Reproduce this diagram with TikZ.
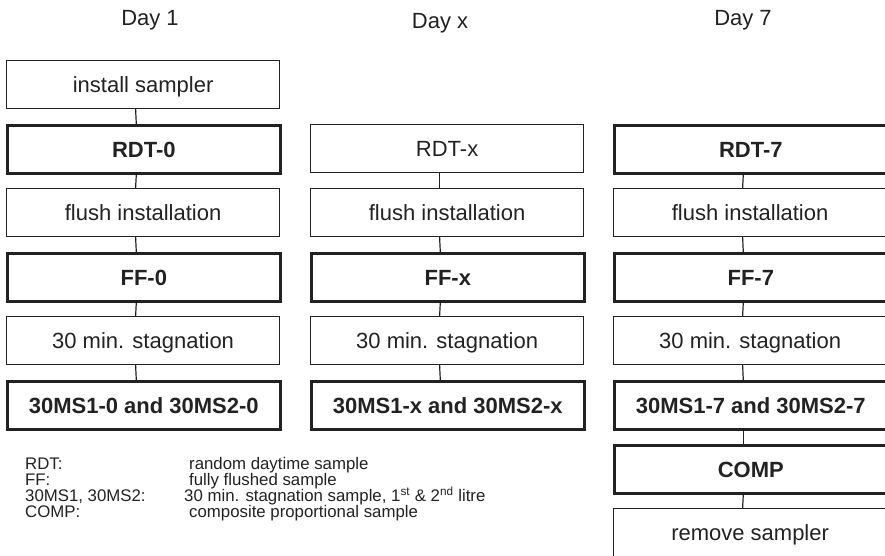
\documentclass[tikz,border=0pt]{standalone}
\usepackage{fontspec}
\setmainfont{Liberation Sans}
\definecolor{ink}{HTML}{222222}
\begin{document}
\begin{tikzpicture}[x=1pt,y=-1pt,
  stepbox/.style={draw=ink,line width=1.2pt,minimum width=273pt,minimum height=48pt,
    inner sep=0pt,anchor=north west,text=ink,
    font=\fontsize{22}{22}\selectfont,text height=15.75pt,text depth=0pt},
  samplebox/.style={stepbox,line width=2.6pt,font=\fontsize{22}{22}\selectfont\bfseries},
  daylabel/.style={text=ink,font=\fontsize{22}{22}\selectfont,inner sep=0pt},
  legend/.style={text=ink,font=\fontsize{16.8}{16.8}\selectfont,inner sep=0pt,anchor=base west},
  link/.style={draw=ink,line width=1.2pt}]
\useasboundingbox (0,0) rectangle (885,555);
\begin{scope}
\clip (0,0) rectangle (885,555);
% day labels
\node[daylabel] (d1) at (150,20) {Day 1};
\node[daylabel] (dx) at (440,23) {Day x};
\node[daylabel] (d7) at (743,20) {Day 7};
% column 1
\node[stepbox]   (a0) at (6,60)  {install sampler};
\node[samplebox] (a1) at (6,124) {RDT-0};
\node[stepbox]   (a2) at (6,188) {flush installation};
\node[samplebox] (a3) at (6,252) {FF-0};
\node[stepbox]   (a4) at (6,316) {30 min. stagnation};
\node[samplebox] (a5) at (6,380) {30MS1-0 and 30MS2-0};
% column 2
\node[stepbox]   (b1) at (310,124) {RDT-x};
\node[stepbox]   (b2) at (310,188) {flush installation};
\node[samplebox] (b3) at (310,252) {FF-x};
\node[stepbox]   (b4) at (310,316) {30 min. stagnation};
\node[samplebox] (b5) at (310,380) {30MS1-x and 30MS2-x};
% column 3
\node[samplebox] (c1) at (613,124) {RDT-7};
\node[stepbox]   (c2) at (613,188) {flush installation};
\node[samplebox] (c3) at (613,252) {FF-7};
\node[stepbox]   (c4) at (613,316) {30 min. stagnation};
\node[samplebox] (c5) at (613,380) {30MS1-7 and 30MS2-7};
\node[samplebox] (c6) at (613,444) {COMP};
\node[stepbox]   (c7) at (613,508) {remove sampler};
% connectors
\foreach \u/\v in {a0/a1,a1/a2,a2/a3,a3/a4,a4/a5,b1/b2,b2/b3,b3/b4,b4/b5,c1/c2,c2/c3,c3/c4,c4/c5,c5/c6,c6/c7}
  \draw[link] ([xshift=-7.5pt]\u.south) -- ([xshift=-7.5pt]\v.north);
\end{scope}
% legend
\node[legend] (l1a) at (25,469.5) {RDT:};
\node[legend] (l1b) at (189,469.5) {random daytime sample};
\node[legend] (l2a) at (25,485.5) {FF:};
\node[legend] (l2b) at (189,485.5) {fully flushed sample};
\node[legend] (l3a) at (25,501.5) {30MS1, 30MS2:};
\node[legend] (l3b) at (184,501.5) {30 min. stagnation sample, 1\textsuperscript{st} \& 2\textsuperscript{nd} litre};
\node[legend] (l4a) at (25,517.5) {COMP:};
\node[legend] (l4b) at (189,517.5) {composite proportional sample};
\end{tikzpicture}
\end{document}
